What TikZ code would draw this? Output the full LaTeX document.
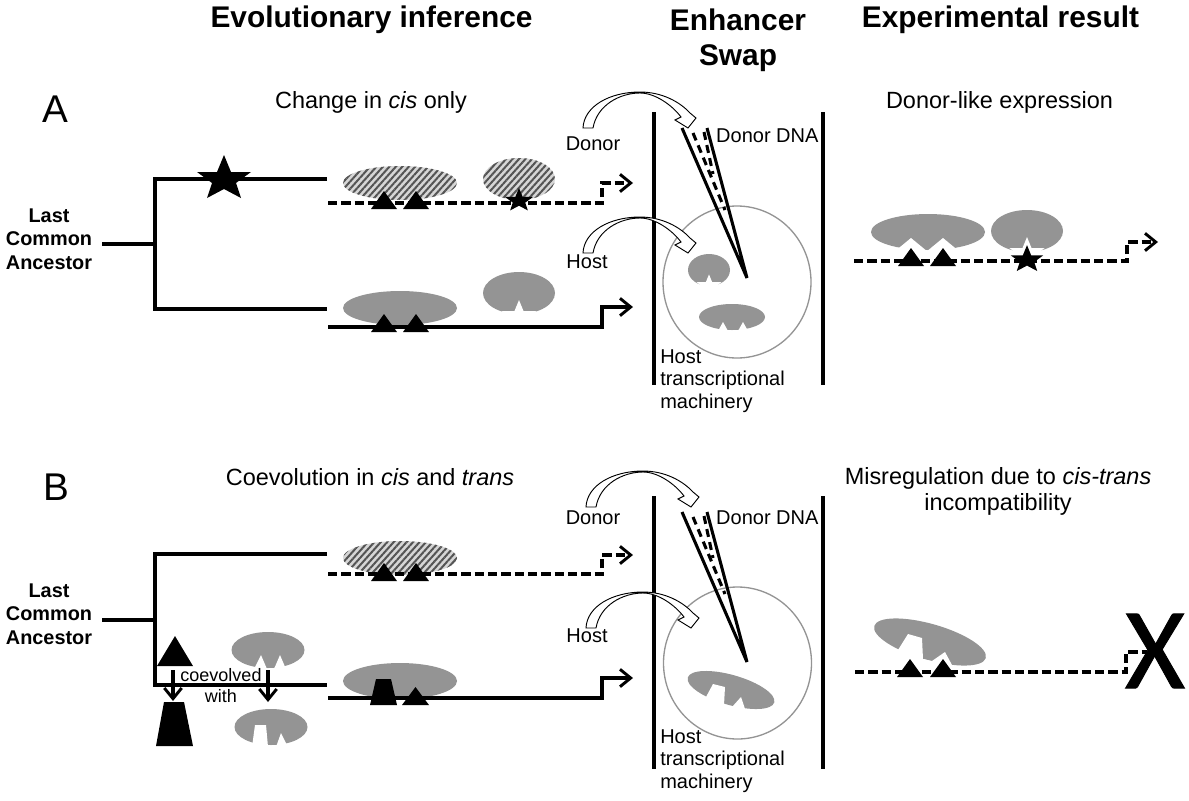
\documentclass[tikz,border=0pt]{standalone}
\usepackage{fontspec}
\setmainfont{Liberation Sans}
\newfontfamily\xfont[FakeBold=0.8]{Carlito}
\usetikzlibrary{arrows.meta,patterns.meta}
\definecolor{tfgray}{gray}{0.58}
\definecolor{hatchlight}{gray}{0.84}
\definecolor{hatchdark}{gray}{0.33}
\tikzset{
  heavy/.style={line width=2.3pt},
  dashline/.style={heavy,dash pattern=on 7pt off 3pt},
  gene/.style={-{Straight Barb[length=8pt,width=13pt,line width=2.2pt]}},
  tf/.style={fill=tfgray},
  hatched/.style={preaction={fill=hatchlight},pattern={Lines[angle=48,distance=3.6pt,line width=1.5pt]},pattern color=hatchdark},
  notch/.style={fill=white},
  site/.style={fill=black},
  head/.style={font=\bfseries\fontsize{22.4}{26}\selectfont,align=center},
  sub/.style={font=\fontsize{17.6}{19.5}\selectfont,align=center},
  small/.style={font=\fontsize{15}{17}\selectfont,align=left},
  anc/.style={font=\bfseries\fontsize{14.9}{17.6}\selectfont,align=center},
  panel/.style={font=\fontsize{29}{30}\selectfont},
}
% hollow bent arrow, shifted per use
\newcommand{\hollowarc}[2]{
\draw [fill=white,line width=0.7pt,shift={(#1,#2)}] (583,128) .. controls (584,106) and (610,92) .. (640,92) .. controls (662,92) and (680,102) .. (690,113) -- (696,118) -- (688,128) -- (675,120) -- (681,117) .. controls (672,105) and (655,93) .. (640,93) .. controls (620,93) and (597,105) .. (593,128) -- cycle ;
}
% pair of binding sites, base at y=#3
\newcommand{\sitepair}[3]{
\fill [site] (#1-13,#3) -- (#1,#3-18) -- (#1+13,#3) -- cycle ;
\fill [site] (#2-13,#3) -- (#2,#3-18) -- (#2+13,#3) -- cycle ;
}
% flattened star: centre, size, colour
\newcommand{\flatstar}[4]{
\fill [#4,shift={(#1,#2)},scale=#3] (0,-23) -- (7,-6) -- (27,-6) -- (12,5) -- (17,20) -- (0,11) -- (-17,20) -- (-12,5) -- (-27,-6) -- (-7,-6) -- cycle ;
}
\begin{document}
\begin{tikzpicture}[x=0.75pt,y=0.75pt,yscale=-1,xscale=1]
\useasboundingbox (0,0) rectangle (1189,800);

% titles
\node [head,anchor=base] (headevo) at (371.5,27) {Evolutionary inference};
\node [head,anchor=north] (headswap) at (738,4) {Enhancer\\Swap};
\node [head,anchor=base] (headres) at (1000.5,27) {Experimental result};
\node [panel] (panela) at (55,109) {A};
\node [panel] (panelb) at (56,487) {B};

%%%%% panel A, tree
\node [sub] (suba) at (371,102) {Change in \textit{cis} only};
\node [sub] (resa) at (999.5,102) {Donor-like expression};
\node [anc] (anca) at (49,239) {Last\\Common\\Ancestor};
\draw [heavy] (102,244) -- (155,244) ;
\draw [heavy] (327,179) -- (155,179) -- (155,309) -- (327,309) ;
\flatstar{224}{178}{1}{black}

\fill [hatched] (400,183) circle [x radius=57,y radius=17] ;
\fill [hatched] (519,179) circle [x radius=36,y radius=21] ;
\draw [dashline,gene] (328,203) -- (602,203) -- (602,183) -- (633,183) ;
\sitepair{384}{416}{209}
\flatstar{519}{200}{0.52}{black}

\fill [tf] (400,308) circle [x radius=57,y radius=17] ;
\fill [tf] (519,293) circle [x radius=36,y radius=21] ;
\flatstar{519}{315}{0.65}{white}
\draw [heavy,gene] (328,327) -- (602,327) -- (602,307) -- (633,307) ;
\sitepair{384}{416}{332}

%%%%% panel A, swap
\draw [heavy] (654,112) -- (654,385) ;
\draw [heavy] (823,112) -- (823,385) ;
\draw [tfgray,line width=1pt] (737,282) circle [x radius=74,y radius=76] ;
\hollowarc{0}{0}
\hollowarc{0}{125}
\draw [heavy] (682,128) -- (747,278) -- (707,128) ;
\draw [heavy,dash pattern=on 6pt off 4pt] (693,133) -- (725,210) ;
\draw [heavy,dash pattern=on 6pt off 4pt] (704,132) -- (713,174) ;
\node [small] (donora) at (593,144) {Donor};
\node [small] (hosta) at (587,262) {Host};
\node [small,anchor=west] (dnaa) at (711.5,136) {Donor DNA};
\node [small,anchor=north west,inner sep=0pt] (macha) at (660,349) {Host\\transcriptional\\machinery};

\fill [tf] (709,270) circle [x radius=21,y radius=16] ;
\flatstar{709}{285}{0.46}{white}
\fill [tf] (732,317) circle [x radius=33,y radius=13] ;
\fill [notch] (718,331) -- (723,322) -- (728,331) -- cycle ;
\fill [notch] (738,331) -- (743,322) -- (748,331) -- cycle ;

%%%%% panel A, result
\fill [tf] (928,232) circle [x radius=57,y radius=18] ;
\fill [tf] (1027,231) circle [x radius=36,y radius=21] ;
\fill [notch] (894,252) -- (911,238) -- (928,252) -- cycle ;
\fill [notch] (926,252) -- (943,238) -- (960,252) -- cycle ;
\flatstar{1027}{252}{0.65}{white}
\draw [dashline,gene] (854,261) -- (1127,261) -- (1127,242) -- (1158,242) ;
\sitepair{911}{943}{266}
\flatstar{1027}{259}{0.6}{black}

%%%%% panel B, tree
\node [sub] (subb) at (370,477) {Coevolution in \textit{cis} and \textit{trans}};
\node [sub] (resb) at (998,491) {Misregulation due to \textit{cis-trans}\\incompatibility};
\node [anc] (ancb) at (49,614) {Last\\Common\\Ancestor};
\draw [heavy] (102,620) -- (155,620) ;
\draw [heavy] (327,554) -- (155,554) -- (155,685) -- (327,685) ;

\fill [hatched] (400,558) circle [x radius=57,y radius=17] ;
\draw [dashline,gene] (328,574) -- (602,574) -- (602,555) -- (633,555) ;
\sitepair{384}{416}{581}

\fill [tf] (400,681) circle [x radius=57,y radius=18] ;
\draw [heavy,gene] (328,698) -- (602,698) -- (602,678) -- (633,678) ;
\fill [site] (370,705) -- (397,705) -- (391,679) -- (376,679) -- cycle ;
\fill [site] (402,705) -- (429,705) -- (415.5,687) -- cycle ;

% coevolved pair
\fill [site] (157,666) -- (193,666) -- (175,636) -- cycle ;
\fill [site] (156,746) -- (193,746) -- (184,702) -- (164,702) -- cycle ;
\draw [heavy,gene] (173,670) -- (173,701) ;
\fill [tf] (268,650) circle [x radius=36.5,y radius=18] ;
\fill [notch] (254,669) -- (261,655) -- (267,669) -- cycle ;
\fill [notch] (274,669) -- (280,655) -- (286,669) -- cycle ;
\draw [heavy,gene] (268,670) -- (268,702) ;
\fill [tf] (271,727) circle [x radius=36.5,y radius=18] ;
\fill [notch] (252,747) -- (255,725) -- (266,725) -- (268,747) -- cycle ;
\fill [notch] (276,747) -- (281,733) -- (288,747) -- cycle ;
\node [small,font=\fontsize{13.5}{16}\selectfont] (coev) at (221,675) {coevolved};
\node [small,font=\fontsize{13.5}{16}\selectfont] (coevwith) at (221,696.5) {with};

%%%%% panel B, swap
\draw [heavy] (654,496) -- (654,769) ;
\draw [heavy] (823,496) -- (823,769) ;
\draw [tfgray,line width=1pt] (737.5,663) circle [x radius=74,y radius=76] ;
\hollowarc{3}{379}
\hollowarc{3}{500}
\draw [heavy] (682,512) -- (747,662) -- (707,512) ;
\draw [heavy,dash pattern=on 6pt off 4pt] (693,517) -- (725,594) ;
\draw [heavy,dash pattern=on 6pt off 4pt] (704,516) -- (713,558) ;
\node [small] (donorb) at (593,518) {Donor};
\node [small] (hostb) at (587,636) {Host};
\node [small,anchor=west] (dnab) at (711.5,518) {Donor DNA};
\node [small,anchor=north west,inner sep=0pt] (machb) at (660,729) {Host\\transcriptional\\machinery};

\fill [tf] (731,690) circle [x radius=45,y radius=15,rotate=16] ;
\fill [notch] (706,697) -- (713,684) -- (725,687) -- (724,705) -- (732,707) -- (741,697) -- (745,709) -- (745,716) -- (700,712) -- cycle ;

%%%%% panel B, result
\fill [tf] (930,642) circle [x radius=58,y radius=18,rotate=16] ;
\fill [notch] (898,650) -- (908,634) -- (922,638) -- (923,659) -- (932,661) -- (945,652) -- (952,665) -- (952,672) -- (895,672) -- cycle ;
\draw [dashline] (855,672) -- (1126,672) -- (1126,652) -- (1147,652) ;
\sitepair{910}{943}{677}
\node [font=\xfont\fontsize{87}{87}\selectfont,inner sep=0pt] (nox) at (1155,651) {X};
\end{tikzpicture}
\end{document}
